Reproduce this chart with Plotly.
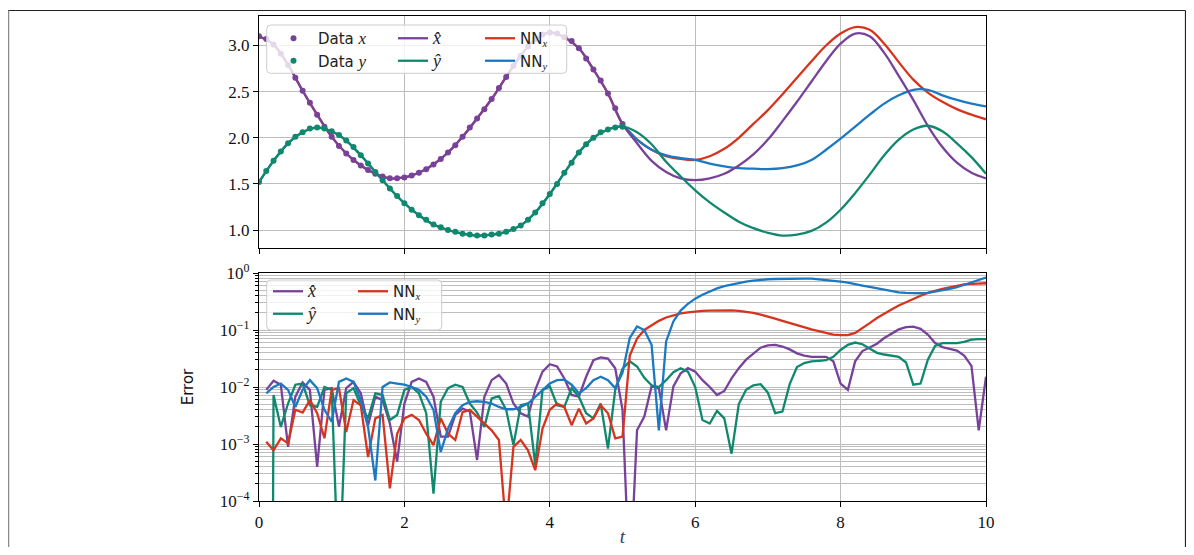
import plotly.graph_objects as go

# ---------------- data ----------------
t_data = [round(0.1 * i, 1) for i in range(51)]          # 0.0 .. 5.0
data_x = [3.10, 3.07, 3.01, 2.91, 2.79, 2.65, 2.51, 2.38, 2.25, 2.12,
          2.01, 1.91, 1.83, 1.76, 1.70, 1.65, 1.61, 1.58, 1.56, 1.56,
          1.57, 1.59, 1.62, 1.66, 1.71, 1.77, 1.84, 1.92, 2.01, 2.11,
          2.21, 2.31, 2.42, 2.54, 2.66, 2.78, 2.89, 2.99, 3.07, 3.12,
          3.14, 3.13, 3.09, 3.05, 2.97, 2.86, 2.74, 2.62, 2.48, 2.32,
          2.15]
data_y = [1.52, 1.64, 1.75, 1.85, 1.94, 2.01, 2.06, 2.10, 2.11, 2.10,
          2.07, 2.03, 1.97, 1.90, 1.81, 1.72, 1.63, 1.54, 1.45, 1.37,
          1.29, 1.22, 1.16, 1.11, 1.06, 1.03, 1.00, 0.98, 0.96, 0.95,
          0.94, 0.94, 0.95, 0.96, 0.98, 1.01, 1.05, 1.11, 1.19, 1.29,
          1.39, 1.50, 1.62, 1.73, 1.84, 1.93, 2.00, 2.06, 2.09, 2.11,
          2.12]

t_model = [round(0.2 * i, 1) for i in range(51)]         # 0.0 .. 10.0
x_hat = [3.10, 3.01, 2.79, 2.51, 2.25, 2.01, 1.83, 1.70, 1.61, 1.56,
         1.57, 1.62, 1.71, 1.84, 2.01, 2.21, 2.42, 2.66, 2.89, 3.07,
         3.14, 3.09, 2.97, 2.74, 2.48, 2.15, 1.94, 1.75, 1.63, 1.56,
         1.54, 1.56, 1.61, 1.70, 1.82, 1.98, 2.18, 2.39, 2.61, 2.83,
         3.02, 3.13, 3.10, 2.92, 2.67, 2.41, 2.13, 1.90, 1.73, 1.62,
         1.56]
y_hat = [1.52, 1.75, 1.94, 2.06, 2.11, 2.07, 1.97, 1.81, 1.63, 1.45,
         1.29, 1.16, 1.06, 1.00, 0.96, 0.94, 0.95, 0.98, 1.05, 1.19,
         1.39, 1.62, 1.84, 2.00, 2.09, 2.12, 2.06, 1.93, 1.74, 1.58,
         1.43, 1.30, 1.19, 1.09, 1.02, 0.97, 0.94, 0.95, 0.99, 1.08,
         1.22, 1.40, 1.60, 1.81, 1.98, 2.09, 2.13, 2.07, 1.94, 1.79,
         1.61]
nn_x = [3.10, 3.01, 2.79, 2.51, 2.25, 2.01, 1.83, 1.70, 1.61, 1.56,
        1.57, 1.62, 1.71, 1.84, 2.01, 2.21, 2.42, 2.66, 2.89, 3.07,
        3.14, 3.09, 2.97, 2.74, 2.48, 2.15, 1.98, 1.87, 1.80, 1.77,
        1.76, 1.80, 1.88, 2.00, 2.15, 2.30, 2.47, 2.65, 2.83, 3.00,
        3.13, 3.20, 3.17, 3.02, 2.82, 2.63, 2.49, 2.39, 2.31, 2.25,
        2.20]
nn_y = [1.52, 1.75, 1.94, 2.06, 2.11, 2.07, 1.97, 1.81, 1.63, 1.45,
        1.29, 1.16, 1.06, 1.00, 0.96, 0.94, 0.95, 0.98, 1.05, 1.19,
        1.39, 1.62, 1.84, 2.00, 2.09, 2.12, 1.98, 1.87, 1.81, 1.78,
        1.76, 1.72, 1.69, 1.67, 1.665, 1.66, 1.67, 1.70, 1.76, 1.87,
        1.99, 2.12, 2.25, 2.37, 2.46, 2.52, 2.52, 2.46, 2.41, 2.37,
        2.34]

t_err = [round(0.1 * i, 1) for i in range(1, 101)]       # 0.1 .. 10.0
# errors given as log10 values
log_err_xhat = [-2.05, -1.89, -1.96, -3.05, -2.17, -1.92, -2.05, -3.40, -2.05, -2.02,
                -2.70, -2.02, -1.91, -2.11, -2.67, -2.17, -2.23, -2.64, -3.31, -2.29,
                -1.91, -1.85, -1.91, -2.17, -2.87, -2.87, -2.49, -2.38, -2.43, -3.28,
                -2.17, -1.88, -1.79, -1.94, -2.29, -2.46, -2.52, -2.05, -1.73, -1.60,
                -1.64, -1.85, -2.14, -2.17, -1.82, -1.53, -1.48, -1.50, -1.67, -2.40,
                -5.50, -2.76, -2.52, -1.99, -2.02, -2.76, -1.99, -1.76, -1.67, -1.73,
                -1.88, -2.00, -2.14, -2.07, -1.85, -1.67, -1.52, -1.41, -1.31, -1.27,
                -1.26, -1.29, -1.34, -1.41, -1.45, -1.47, -1.47, -1.47, -1.55, -1.94,
                -2.05, -1.55, -1.37, -1.30, -1.24, -1.14, -1.07, -0.99, -0.95, -0.94,
                -0.98, -1.08, -1.23, -1.30, -1.33, -1.36, -1.45, -1.63, -2.76, -1.82]
log_err_yhat = [-30.0, -2.14, -2.70, -2.29, -1.96, -1.94, -2.32, -2.35, -2.00, -2.05,
                -5.60, -2.11, -2.02, -2.32, -2.55, -2.11, -2.14, -2.58, -2.49, -2.05,
                -2.00, -2.11, -2.46, -3.87, -2.26, -2.02, -1.96, -2.00, -2.29, -2.45,
                -2.70, -2.20, -2.16, -2.40, -3.02, -2.32, -2.29, -3.37, -2.05, -1.99,
                -2.32, -2.35, -2.02, -2.17, -2.46, -2.55, -2.29, -3.08, -2.05, -1.68,
                -1.55, -1.64, -1.84, -1.97, -2.00, -1.88, -1.74, -1.67, -1.73, -2.00,
                -2.58, -2.64, -2.42, -2.55, -3.17, -2.30, -2.05, -1.97, -1.95, -2.10,
                -2.46, -2.43, -1.95, -1.65, -1.58, -1.55, -1.54, -1.53, -1.47, -1.35,
                -1.26, -1.22, -1.25, -1.33, -1.40, -1.43, -1.45, -1.47, -1.57, -1.96,
                -1.94, -1.52, -1.28, -1.23, -1.23, -1.23, -1.21, -1.17, -1.16, -1.16]
log_err_nnx = [-2.96, -3.11, -2.90, -2.99, -2.40, -2.45, -2.23, -2.46, -2.90, -2.05,
               -2.02, -2.79, -2.23, -2.32, -3.23, -2.55, -2.49, -3.78, -2.82, -2.55,
               -2.49, -2.58, -2.82, -3.02, -2.55, -2.82, -2.93, -2.44, -2.40, -2.52,
               -2.64, -2.76, -2.93, -4.50, -3.05, -2.93, -3.11, -3.46, -2.73, -2.40,
               -2.29, -2.35, -2.67, -2.38, -2.64, -2.55, -2.32, -2.46, -2.90, -2.87,
               -1.45, -1.15, -1.00, -0.92, -0.84, -0.78, -0.74, -0.71, -0.69, -0.675,
               -0.665, -0.66, -0.655, -0.65, -0.655, -0.665, -0.68, -0.70, -0.73, -0.76,
               -0.80, -0.84, -0.88, -0.92, -0.96, -0.99, -1.02, -1.05, -1.08, -1.09,
               -1.09, -1.05, -0.97, -0.88, -0.79, -0.71, -0.64, -0.57, -0.51, -0.45,
               -0.40, -0.35, -0.31, -0.28, -0.25, -0.22, -0.20, -0.19, -0.185, -0.18]
log_err_nny = [-2.11, -2.00, -1.94, -2.05, -2.35, -2.05, -1.88, -2.02, -2.40, -2.61,
               -1.91, -1.85, -1.91, -2.23, -2.70, -3.64, -2.00, -1.92, -1.94, -1.96,
               -2.00, -2.05, -2.17, -2.40, -3.14, -2.73, -2.46, -2.32, -2.26, -2.25,
               -2.26, -2.29, -2.35, -2.39, -2.39, -2.35, -2.29, -2.17, -2.05, -1.94,
               -1.88, -1.87, -1.96, -2.11, -2.02, -1.88, -1.82, -1.88, -2.02, -1.75,
               -1.14, -0.94, -1.00, -1.26, -2.76, -1.20, -0.85, -0.66, -0.54, -0.45,
               -0.38, -0.32, -0.27, -0.23, -0.20, -0.17, -0.15, -0.135, -0.12, -0.11,
               -0.105, -0.10, -0.098, -0.097, -0.097, -0.10, -0.11, -0.12, -0.135, -0.15,
               -0.17, -0.19, -0.22, -0.245, -0.27, -0.30, -0.32, -0.34, -0.35, -0.355,
               -0.355, -0.35, -0.33, -0.31, -0.28, -0.25, -0.21, -0.16, -0.12, -0.08]

top_yticks = [1.0, 1.5, 2.0, 2.5, 3.0]
top_yticktext = ["1.0", "1.5", "2.0", "2.5", "3.0"]
xticks = [0, 2, 4, 6, 8, 10]
xticktext = ["0", "2", "4", "6", "8", "10"]
err_ticks = [1e-4, 1e-3, 1e-2, 1e-1, 1e0]
err_ticktext = ["10<sup>−4</sup>", "10<sup>−3</sup>", "10<sup>−2</sup>", "10<sup>−1</sup>", "10<sup>0</sup>"]
err_minor = [k * 10.0 ** e for e in range(-4, 0) for k in range(2, 10)]

# ---------------- styling ----------------
PURPLE = "#78429a"
GREEN = "#10886e"
RED = "#d6341e"
BLUE = "#1a79c2"
SERIF = "Liberation Serif"
SANS = "DejaVu Sans"
LW = 2.3


def mi(s, size=None):
    sz = f";font-size:{size}px" if size else ""
    return f'<span style="font-family:{SERIF};font-style:italic{sz}">{s}</span>'


def err(v):
    return [10.0 ** a for a in v]


NAME_DX = "Data " + mi("x", 17)
NAME_DY = "Data " + mi("y", 17)
NAME_XH = mi("x\u0302", 18)
NAME_YH = mi("y\u0302", 18)
NAME_NX = "NN<sub>" + mi("x") + "</sub>"
NAME_NY = "NN<sub>" + mi("y") + "</sub>"

fig = go.Figure()

# top panel
fig.add_trace(go.Scatter(x=t_model, y=nn_x, mode="lines", name=NAME_NX,
                         line=dict(color=RED, width=LW, shape="spline"), legend="legend3",
                         xaxis="x", yaxis="y"))
fig.add_trace(go.Scatter(x=t_model, y=nn_y, mode="lines", name=NAME_NY,
                         line=dict(color=BLUE, width=LW, shape="spline"), legend="legend3",
                         xaxis="x", yaxis="y"))
fig.add_trace(go.Scatter(x=t_model, y=x_hat, mode="lines", name=NAME_XH,
                         line=dict(color=PURPLE, width=LW, shape="spline"), legend="legend2",
                         xaxis="x", yaxis="y"))
fig.add_trace(go.Scatter(x=t_model, y=y_hat, mode="lines", name=NAME_YH,
                         line=dict(color=GREEN, width=LW, shape="spline"), legend="legend2",
                         xaxis="x", yaxis="y"))
fig.add_trace(go.Scatter(x=t_data, y=data_x, mode="markers", name=NAME_DX,
                         marker=dict(color=PURPLE, size=6), legend="legend",
                         xaxis="x", yaxis="y"))
fig.add_trace(go.Scatter(x=t_data, y=data_y, mode="markers", name=NAME_DY,
                         marker=dict(color=GREEN, size=6), legend="legend",
                         xaxis="x", yaxis="y"))

# bottom panel
fig.add_trace(go.Scatter(x=t_err, y=err(log_err_xhat), mode="lines", name=NAME_XH,
                         line=dict(color=PURPLE, width=LW), legend="legend4",
                         xaxis="x2", yaxis="y2"))
fig.add_trace(go.Scatter(x=t_err, y=err(log_err_yhat), mode="lines", name=NAME_YH,
                         line=dict(color=GREEN, width=LW), legend="legend4",
                         xaxis="x2", yaxis="y2"))
fig.add_trace(go.Scatter(x=t_err, y=err(log_err_nnx), mode="lines", name=NAME_NX,
                         line=dict(color=RED, width=LW), legend="legend5",
                         xaxis="x2", yaxis="y2"))
fig.add_trace(go.Scatter(x=t_err, y=err(log_err_nny), mode="lines", name=NAME_NY,
                         line=dict(color=BLUE, width=LW), legend="legend5",
                         xaxis="x2", yaxis="y2"))

# the page has an 8px body margin: the figure sits at (OFF, OFF), so compensate
# and keep the whole page inside the 1194x555 window
OFF = 8
W, H = 1194 - 2 * OFF, 555 - 2 * OFF
PLOT_X0, PLOT_X1, PLOT_Y0, PLOT_Y1 = 259, 986, 16, 501     # screen pixels of plot area
L, T = PLOT_X0 - OFF, PLOT_Y0 - OFF
R, B = W - (PLOT_X1 - OFF), H - (PLOT_Y1 - OFF)
PW, PH = W - L - R, H - T - B


def px(xp):      # screen pixel x -> paper
    return (xp - OFF - L) / PW


def py(yp):      # screen pixel y -> paper
    return (H - B - (yp - OFF)) / PH


GRID = "#bdbdbd"
tickfont = dict(family=SERIF, size=17, color="#111")
axis_common = dict(showline=True, linecolor="black", linewidth=1.2, mirror=True,
                   ticks="outside", ticklen=5, tickcolor="black", tickwidth=1,
                   showgrid=True, gridcolor=GRID, gridwidth=1, zeroline=False,
                   tickfont=tickfont, automargin=False)

legend_common = dict(bgcolor="rgba(0,0,0,0)", borderwidth=0, xanchor="left", yanchor="top",
                     orientation="v", tracegroupgap=0,
                     font=dict(family=SANS, size=15, color="#222"))


def box_path(x0, y0, x1, y1, r=4):
    a, b, c, d = px(x0), py(y1), px(x1), py(y0)
    rx, ry = r / PW, r / PH
    return (f"M {a+rx},{b} L {c-rx},{b} Q {c},{b} {c},{b+ry} L {c},{d-ry} Q {c},{d} {c-rx},{d} "
            f"L {a+rx},{d} Q {a},{d} {a},{d-ry} L {a},{b+ry} Q {a},{b} {a+rx},{b} Z")


shapes = [
    dict(type="path", xref="paper", yref="paper", path=box_path(266.7, 25, 566.7, 73.3),
         fillcolor="rgba(255,255,255,0.8)", line=dict(color="#cccccc", width=1), layer="above"),
    dict(type="path", xref="paper", yref="paper", path=box_path(266.7, 280, 441.7, 330),
         fillcolor="rgba(255,255,255,0.8)", line=dict(color="#cccccc", width=1), layer="above"),
    # outer frame of the picture
    dict(type="line", xref="paper", yref="paper", x0=px(8), x1=px(1185.5), y0=py(10.5), y1=py(10.5),
         line=dict(color="#222", width=1.2)),
    dict(type="line", xref="paper", yref="paper", x0=px(8.5), x1=px(8.5), y0=py(10.5), y1=py(547),
         line=dict(color="#8a8a8a", width=1.5)),
    dict(type="line", xref="paper", yref="paper", x0=px(1185.5), x1=px(1185.5), y0=py(10.5), y1=py(547),
         line=dict(color="#222", width=1.2)),
]

top_dom = [py(248), 1.0]
bot_dom = [0.0, py(273)]

fig.update_layout(
    width=W, height=H, autosize=False,
    margin=dict(l=L, r=R, t=T, b=B, autoexpand=False),
    paper_bgcolor="white", plot_bgcolor="white",
    showlegend=True,
    xaxis=dict(domain=[0, 1], anchor="y", range=[0, 10], tickvals=xticks, ticktext=xticktext,
               showticklabels=False, **axis_common),
    yaxis=dict(domain=top_dom, anchor="x", range=[0.805, 3.32], tickvals=top_yticks,
               ticktext=top_yticktext, **axis_common),
    xaxis2=dict(domain=[0, 1], anchor="y2", range=[0, 10], matches="x", tickvals=xticks,
                ticktext=xticktext,
                title=dict(text=mi("t"), font=dict(family=SERIF, size=19), standoff=4),
                **axis_common),
    yaxis2=dict(domain=bot_dom, anchor="x2", type="log", range=[-4, 0], tickvals=err_ticks,
                ticktext=err_ticktext,
                minor=dict(tickmode="array", tickvals=err_minor, ticks="outside", ticklen=3,
                           tickcolor="black", showgrid=True, gridcolor=GRID, gridwidth=1),
                title=dict(text="Error", font=dict(family=SANS, size=15, color="#111"), standoff=22),
                **axis_common),
    legend=dict(x=px(269), y=py(22), itemwidth=39, **legend_common),
    legend2=dict(x=px(393), y=py(22), **legend_common),
    legend3=dict(x=px(480), y=py(22), **legend_common),
    legend4=dict(x=px(268), y=py(275), **legend_common),
    legend5=dict(x=px(353), y=py(275), **legend_common),
    shapes=shapes,
)

fig.write_html("out.html")
